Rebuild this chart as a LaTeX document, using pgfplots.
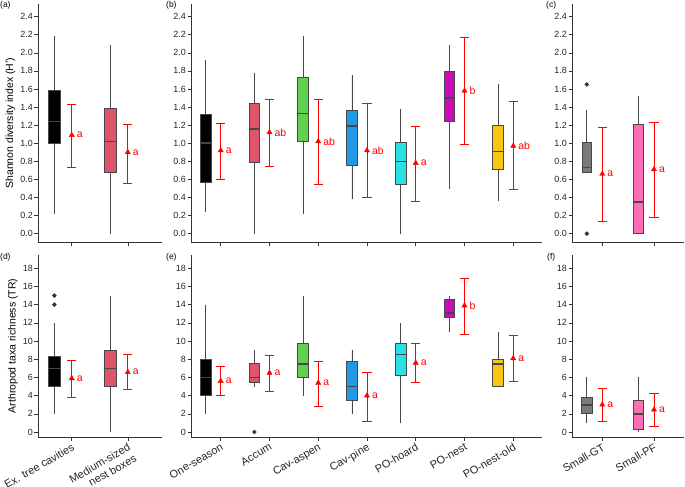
\documentclass[border=0pt]{standalone}
\usepackage{fontspec}
\setmainfont{Liberation Sans}
\usepackage{pgfplots}
\usepackage{pgfplotstable}
\usepgfplotslibrary{statistics}
\pgfplotsset{compat=1.18}

\definecolor{cA}{HTML}{000000}
\definecolor{cB}{HTML}{DF536B}
\definecolor{cC}{HTML}{61D04F}
\definecolor{cD}{HTML}{2297E6}
\definecolor{cE}{HTML}{28E2E5}
\definecolor{cF}{HTML}{CD0BBC}
\definecolor{cG}{HTML}{F5C710}
\definecolor{cGT}{HTML}{7A7A7A}
\definecolor{cPF}{HTML}{FF6EB4}
\definecolor{axc}{HTML}{333333}

% means and error bars: x, mean, +err, -err, letter
\pgfplotstableread{
x y ep em lab
1 1.09 0.34 0.36 a
2 0.90 0.31 0.34 a
}\meanA
\pgfplotstableread{
x y ep em lab
1 0.92 0.30 0.32 a
2 1.12 0.36 0.38 ab
3 1.02 0.47 0.48 ab
4 0.92 0.52 0.52 ab
5 0.78 0.41 0.42 a
6 1.58 0.59 0.59 b
7 0.97 0.49 0.48 ab
}\meanB
\pgfplotstableread{
x y ep em lab
1 0.66 0.51 0.53 a
2 0.71 0.52 0.53 a
}\meanC
\pgfplotstableread{
x y ep em lab
1 5.9 1.96 2.08 a
2 6.58 1.91 1.91 a
}\meanD
\pgfplotstableread{
x y ep em lab
1 5.6 1.6 1.6 a
2 6.5 1.9 2.0 a
3 5.4 2.4 2.6 a
4 4.0 2.6 2.8 a
5 7.6 2.1 2.1 a
6 13.9 3.0 3.2 b
7 8.1 2.5 2.5 a
}\meanE
\pgfplotstableread{
x y ep em lab
1 3.0 1.8 1.8 a
2 2.45 1.8 1.87 a
}\meanF

\pgfplotsset{
  panel/.style={
    scale only axis, clip=false,
    axis lines=left, axis line style={-, line width=0.8bp, axc},
    tick align=outside, major tick length=3.5bp,
    tick style={line width=0.6bp, axc},
    /pgf/number format/assume math mode=true,
    yticklabel style={font=\fontsize{9}{10}\selectfont, text=black!85, inner sep=1.5bp},
    xticklabel style={font=\fontsize{11}{12.5}\selectfont, text=black!85, rotate=30,
      anchor=north east, align=right, inner sep=1.5bp},
    ylabel style={font=\fontsize{10.5}{12}\selectfont},
    boxplot/draw direction=y,
    boxplot/whisker extend=0,
    boxplot/box extend=0.22,
    boxplot/every median/.style={line width=1.6bp},
  },
  toprow/.style={height=238.3bp, ymin=-0.096, ymax=2.54,
    ytick={0,0.2,0.4,0.6,0.8,1.0,1.2,1.4,1.6,1.8,2.0,2.2,2.4},
    yticklabel style={/pgf/number format/.cd, fixed, fixed zerofill, precision=1},
    xticklabels={}},
  botrow/.style={height=182bp, ymin=-0.55, ymax=19.46,
    ytick={0,2,4,6,8,10,12,14,16,18}},
  bx/.style={draw=black!72, line width=0.75bp, fill=#1, mark=*, mark size=1.8bp,
    mark options={fill=black!80, draw=black!80}},
  mn/.style={only marks, mark=triangle*, mark size=3bp, red,
    error bars/.cd, y dir=both, y explicit,
    error bar style={line width=0.75bp, red},
    error mark options={rotate=90, line width=0.75bp, mark size=4.6bp, red},
    /pgfplots/.cd,
    nodes near coords, point meta=explicit symbolic,
    every node near coord/.append style={anchor=west, xshift=1.5bp, text=red,
      font=\fontsize{10.5}{12}\selectfont}},
}
\newcommand{\mplot}[1]{\addplot[mn] table[x=x, y=y, y error plus=ep, y error minus=em, meta=lab]{#1};}

\begin{document}
\begin{tikzpicture}
\useasboundingbox (0,0) rectangle (685bp,-487bp);

% (a)
\begin{axis}[panel, toprow, at={(38bp,-242.3bp)}, anchor=south west, width=124bp,
  xmin=0.398, xmax=2.61, xtick={1,2}, ylabel={Shannon diversity index (H')}]
\addplot[bx=cA, boxplot prepared={lower whisker=0.22, lower quartile=1.0, median=1.24, upper quartile=1.58, upper whisker=2.19, draw position=0.69}] coordinates {};
\addplot[bx=cB, boxplot prepared={lower whisker=0, lower quartile=0.68, median=1.02, upper quartile=1.38, upper whisker=2.09, draw position=1.69}] coordinates {};
\mplot{\meanA}
\end{axis}

% (b)
\begin{axis}[panel, toprow, at={(191bp,-242.3bp)}, anchor=south west, width=351bp,
  xmin=0.39, xmax=7.59, xtick={1,...,7}]
\addplot[bx=cA, boxplot prepared={lower whisker=0.24, lower quartile=0.57, median=1.00, upper quartile=1.32, upper whisker=1.92, draw position=0.69}] coordinates {};
\addplot[bx=cB, boxplot prepared={lower whisker=0, lower quartile=0.79, median=1.16, upper quartile=1.44, upper whisker=1.78, draw position=1.69}] coordinates {};
\addplot[bx=cC, boxplot prepared={lower whisker=0.22, lower quartile=1.02, median=1.33, upper quartile=1.73, upper whisker=2.19, draw position=2.69}] coordinates {};
\addplot[bx=cD, boxplot prepared={lower whisker=0.38, lower quartile=0.76, median=1.19, upper quartile=1.36, upper whisker=1.75, draw position=3.69}] coordinates {};
\addplot[bx=cE, boxplot prepared={lower whisker=0, lower quartile=0.54, median=0.80, upper quartile=1.01, upper whisker=1.38, draw position=4.69}] coordinates {};
\addplot[bx=cF, boxplot prepared={lower whisker=0.49, lower quartile=1.24, median=1.50, upper quartile=1.80, upper whisker=2.09, draw position=5.69}] coordinates {};
\addplot[bx=cG, boxplot prepared={lower whisker=0.36, lower quartile=0.71, median=0.91, upper quartile=1.20, upper whisker=1.65, draw position=6.69}] coordinates {};
\mplot{\meanB}
\end{axis}

% (c)
\begin{axis}[panel, toprow, at={(572bp,-242.3bp)}, anchor=south west, width=112bp,
  xmin=0.414, xmax=2.58, xtick={1,2}]
\addplot[bx=cGT, boxplot/box extend=0.17, boxplot prepared={lower whisker=0.67, lower quartile=0.68, median=0.73, upper quartile=1.01, upper whisker=1.37, draw position=0.7}] coordinates {(0,1.65) (0,0)};
\addplot[bx=cPF, boxplot/box extend=0.2, boxplot prepared={lower whisker=0, lower quartile=0, median=0.35, upper quartile=1.21, upper whisker=1.52, draw position=1.7}] coordinates {};
\mplot{\meanC}
\end{axis}

% (d)
\begin{axis}[panel, botrow, at={(38bp,-437bp)}, anchor=south west, width=124bp,
  xmin=0.398, xmax=2.61, xtick={1,2},
  xticklabels={Ex. tree cavities, {Medium-sized\\nest boxes}},
  ylabel={Arthropod taxa richness (TR)}]
\addplot[bx=cA, boxplot prepared={lower whisker=2, lower quartile=5, median=7, upper quartile=8.3, upper whisker=12, draw position=0.69}] coordinates {(0,14) (0,15)};
\addplot[bx=cB, boxplot prepared={lower whisker=0, lower quartile=5, median=7, upper quartile=9, upper whisker=15, draw position=1.69}] coordinates {};
\mplot{\meanD}
\end{axis}

% (e)
\begin{axis}[panel, botrow, at={(191bp,-437bp)}, anchor=south west, width=351bp,
  xmin=0.39, xmax=7.59, xtick={1,...,7},
  xticklabels={One-season, Accum, Cav-aspen, Cav-pine, PO-hoard, PO-nest, PO-nest-old}]
\addplot[bx=cA, boxplot prepared={lower whisker=2, lower quartile=4, median=6, upper quartile=8, upper whisker=14, draw position=0.69}] coordinates {};
\addplot[bx=cB, boxplot prepared={lower whisker=5, lower quartile=5.5, median=6, upper quartile=7.5, upper whisker=9, draw position=1.69}] coordinates {(0,0)};
\addplot[bx=cC, boxplot prepared={lower whisker=4, lower quartile=6, median=7.5, upper quartile=9.75, upper whisker=15, draw position=2.69}] coordinates {};
\addplot[bx=cD, boxplot prepared={lower whisker=2, lower quartile=3.5, median=5, upper quartile=7.75, upper whisker=9, draw position=3.69}] coordinates {};
\addplot[bx=cE, boxplot prepared={lower whisker=1, lower quartile=6.2, median=8.5, upper quartile=9.75, upper whisker=12, draw position=4.69}] coordinates {};
\addplot[bx=cF, boxplot prepared={lower whisker=11, lower quartile=12.6, median=13.1, upper quartile=14.6, upper whisker=15, draw position=5.69}] coordinates {};
\addplot[bx=cG, boxplot prepared={lower whisker=5, lower quartile=5, median=7.5, upper quartile=8, upper whisker=11, draw position=6.69}] coordinates {};
\mplot{\meanE}
\end{axis}

% (f)
\begin{axis}[panel, botrow, at={(572bp,-437bp)}, anchor=south west, width=112bp,
  xmin=0.414, xmax=2.58, xtick={1,2},
  xticklabels={Small-GT, Small-PF}]
\addplot[bx=cGT, boxplot/box extend=0.22, boxplot prepared={lower whisker=1, lower quartile=2, median=3, upper quartile=3.85, upper whisker=6, draw position=0.7}] coordinates {};
\addplot[bx=cPF, boxplot/box extend=0.2, boxplot prepared={lower whisker=0, lower quartile=0.25, median=2, upper quartile=3.5, upper whisker=6, draw position=1.7}] coordinates {};
\mplot{\meanF}
\end{axis}

% panel letters
\begin{scope}[every node/.style={anchor=north west, inner sep=0pt, font=\fontsize{8.5}{10}\selectfont}]
\node at (0bp,-1bp) {(a)};
\node at (166bp,-1bp) {(b)};
\node at (546bp,-1bp) {(c)};
\node at (0bp,-253bp) {(d)};
\node at (166bp,-253bp) {(e)};
\node at (547bp,-253bp) {(f)};
\end{scope}
\end{tikzpicture}
\end{document}
